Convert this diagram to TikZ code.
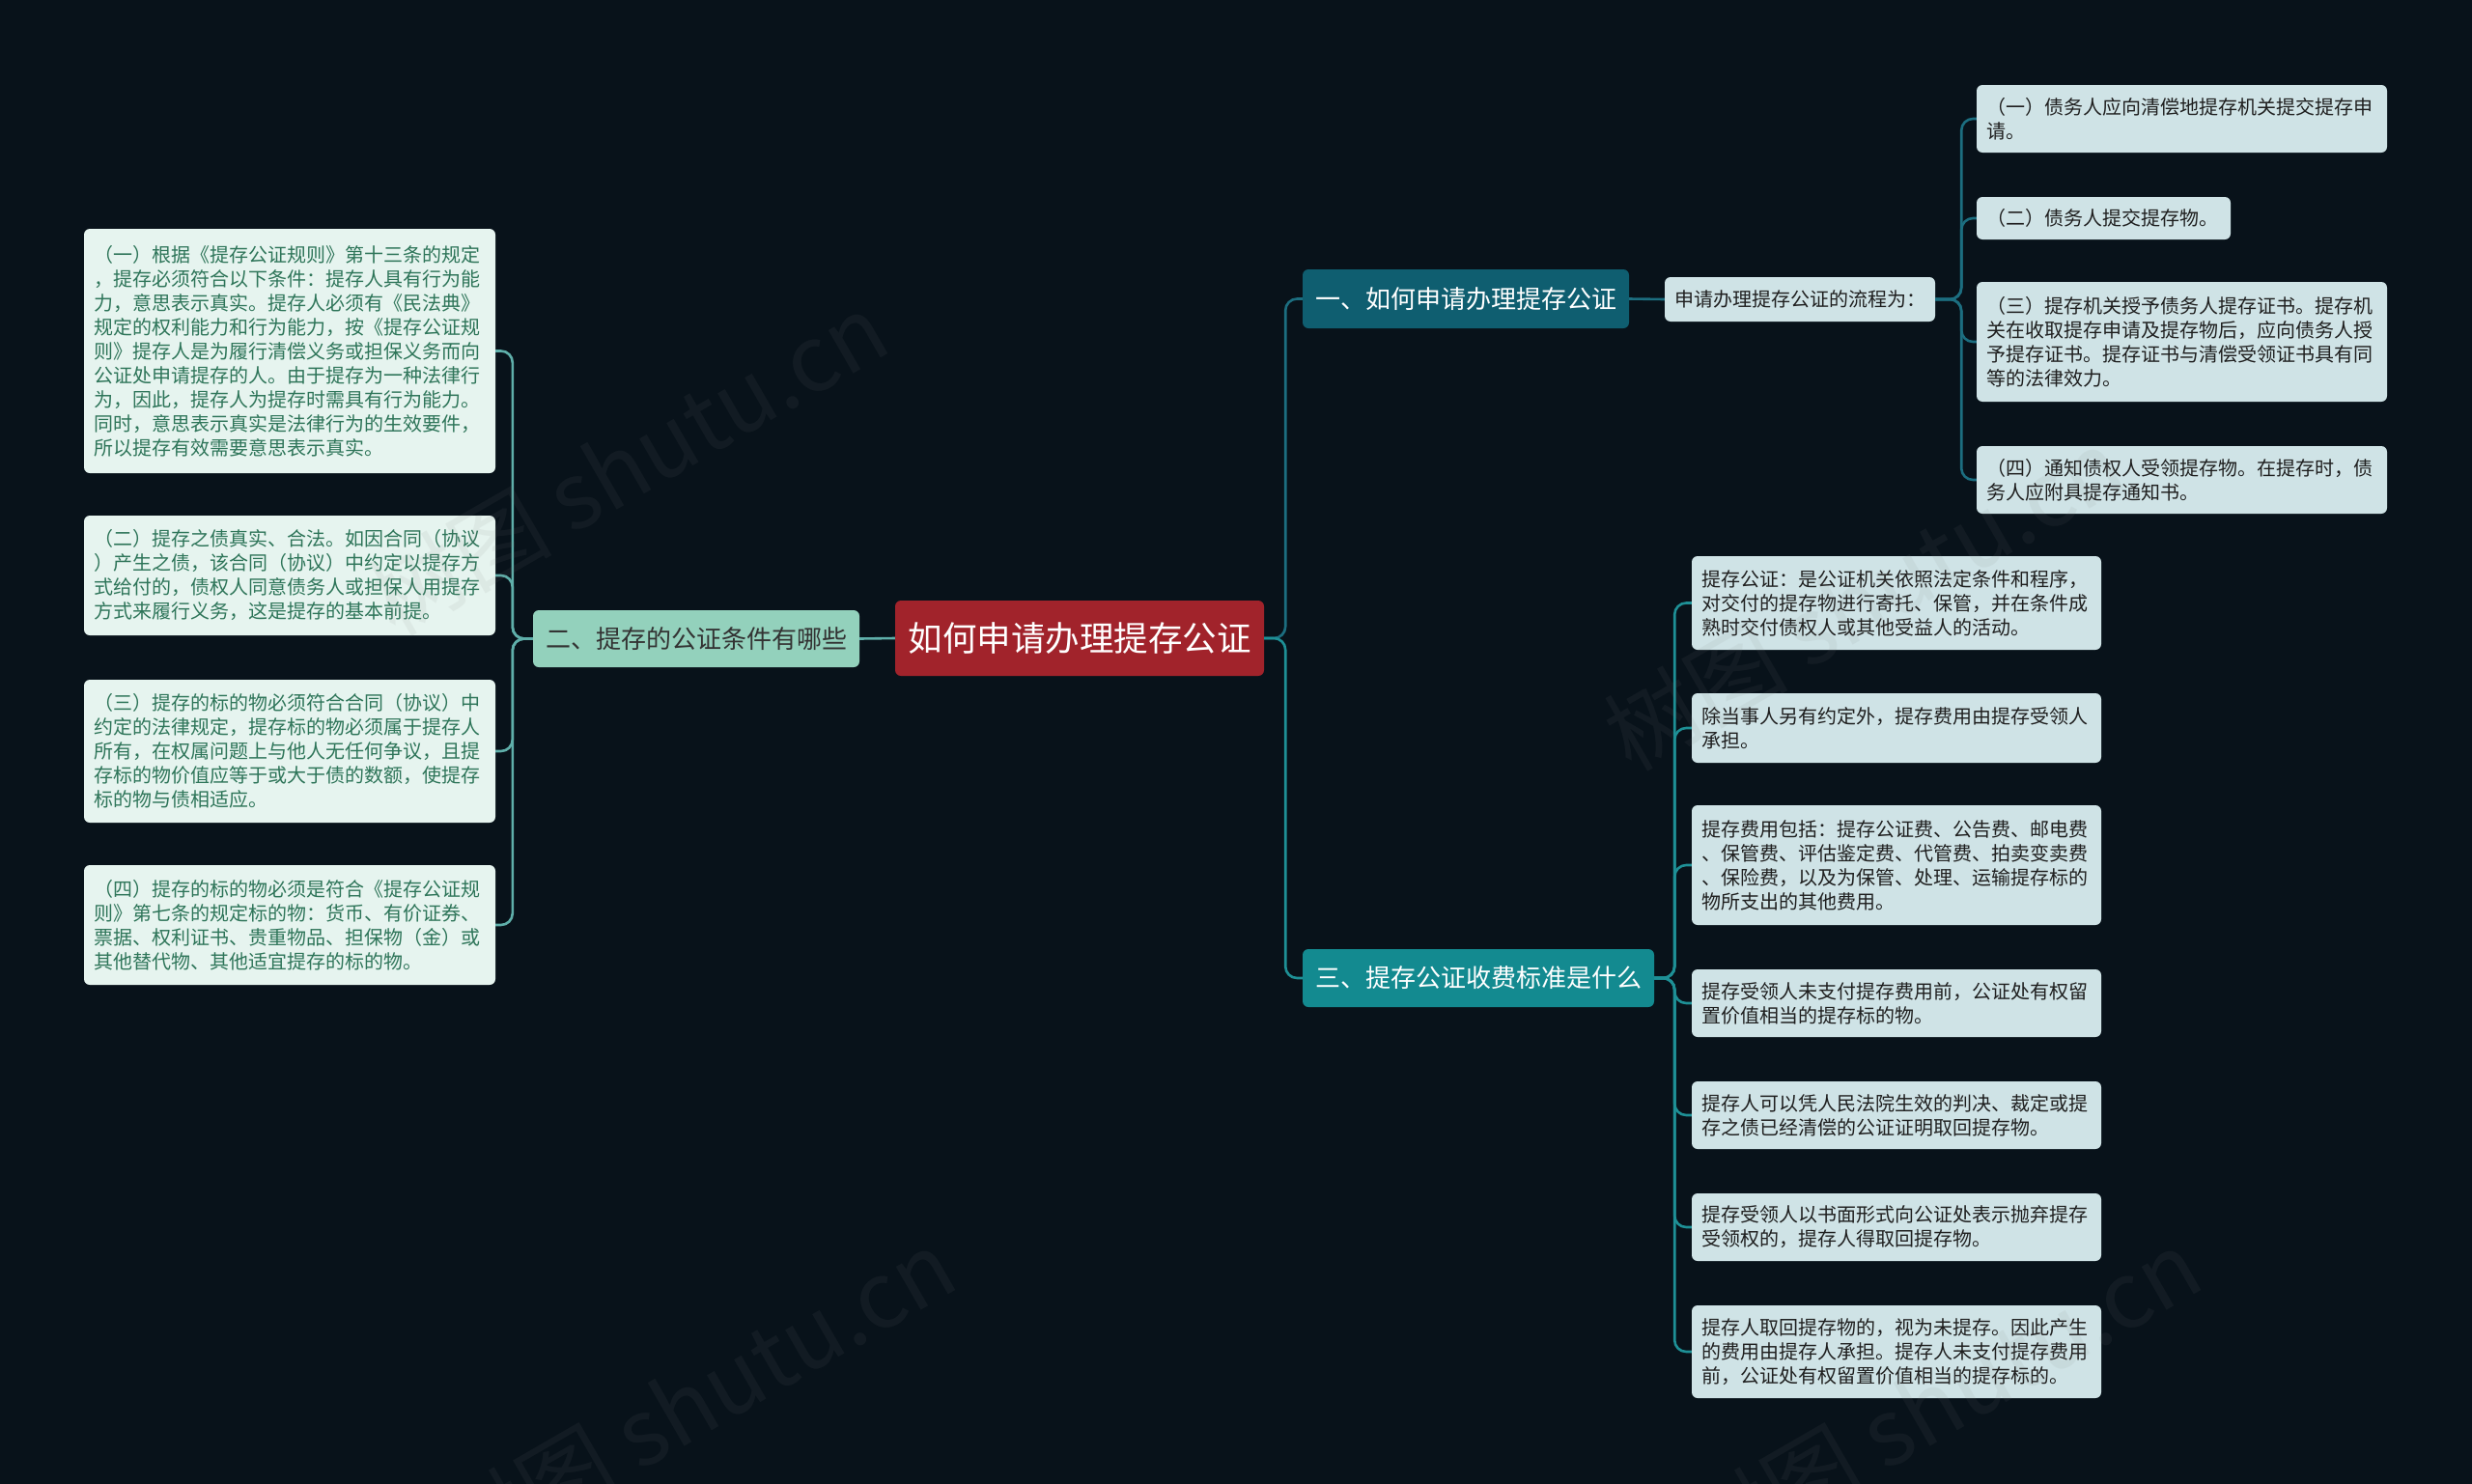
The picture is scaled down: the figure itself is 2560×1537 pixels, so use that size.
\documentclass[tikz,border=0pt]{standalone}
\usepackage{fontspec}
\setmainfont{Noto Sans CJK SC}
\definecolor{bgc}{HTML}{08121A}
\definecolor{rootc}{HTML}{A1232B}
\definecolor{mintc}{HTML}{93D1BC}
\definecolor{darkteal}{HTML}{0F5E70}
\definecolor{tealc}{HTML}{138A90}
\definecolor{lightblue}{HTML}{CFE3E6}
\definecolor{lightmint}{HTML}{E6F4EF}
\definecolor{leaftxt}{HTML}{2E7559}
\definecolor{connA}{HTML}{1C6E80}
\definecolor{connB}{HTML}{1E9096}
\definecolor{connL}{HTML}{5FAFAA}
\tikzset{
  box/.style={rectangle, rounded corners=6pt, inner xsep=10pt, inner ysep=4pt, align=left},
  leafR/.style={box, fill=lightblue, text=black!88, font=\fontsize{20}{25}\selectfont, text width=#1},
  leafL/.style={box, fill=lightmint, text=leaftxt, font=\fontsize{20}{25}\selectfont, text width=406pt},
  topic/.style={box, align=center, font=\fontsize{26}{30}\selectfont},
  conn/.style={line width=2.6pt, rounded corners=12pt},
  wmark/.style={text=gray, opacity=0.09, font=\fontsize{95}{95}\selectfont, rotate=30}
}
\begin{document}
\begin{tikzpicture}[x=1pt,y=-1pt]
\useasboundingbox (0,0) rectangle (2560,1537);
\fill[bgc] (0,0) rectangle (2560,1537);

% main nodes
\node[box, align=center, fill=rootc, text=white, font=\fontsize{35.5}{40}\selectfont, minimum width=382pt, minimum height=78pt] (root) at (1118,661) {如何申请办理提存公证};
\node[topic, fill=mintc, text=black!80, minimum width=338pt, minimum height=59pt] (two) at (721,661.5) {二、提存的公证条件有哪些};
\node[topic, fill=darkteal, text=white, minimum width=338pt, minimum height=61pt] (one) at (1518,309.5) {一、如何申请办理提存公证};
\node[topic, fill=tealc, text=white, minimum width=364pt, minimum height=60pt] (three) at (1531,1013) {三、提存公证收费标准是什么};
\node[box, align=center, fill=lightblue, text=black!88, font=\fontsize{20}{25}\selectfont, minimum width=276pt, minimum height=46pt] (flow) at (1864,310) {申请办理提存公证的流程为：};

% right top leaves
\node[leafR=405pt, minimum height=70pt] (r1) at (2259.5,123) {（一）债务人应向清偿地提存机关提交提存申\\请。};
\node[leafR=243pt, minimum height=44pt] (r2) at (2178.5,226) {（二）债务人提交提存物。};
\node[leafR=405pt, minimum height=124pt] (r3) at (2259.5,354) {（三）提存机关授予债务人提存证书。提存机\\关在收取提存申请及提存物后，应向债务人授\\予提存证书。提存证书与清偿受领证书具有同\\等的法律效力。};
\node[leafR=405pt, minimum height=70pt] (r4) at (2259.5,497) {（四）通知债权人受领提存物。在提存时，债\\务人应附具提存通知书。};

% right bottom leaves
\node[leafR=404pt, minimum height=97pt] (b1) at (1964,624.5) {提存公证：是公证机关依照法定条件和程序，\\对交付的提存物进行寄托、保管，并在条件成\\熟时交付债权人或其他受益人的活动。};
\node[leafR=404pt, minimum height=72pt] (b2) at (1964,754) {除当事人另有约定外，提存费用由提存受领人\\承担。};
\node[leafR=404pt, minimum height=124pt] (b3) at (1964,896) {提存费用包括：提存公证费、公告费、邮电费\\、保管费、评估鉴定费、代管费、拍卖变卖费\\、保险费，以及为保管、处理、运输提存标的\\物所支出的其他费用。};
\node[leafR=404pt, minimum height=70pt] (b4) at (1964,1039) {提存受领人未支付提存费用前，公证处有权留\\置价值相当的提存标的物。};
\node[leafR=404pt, minimum height=70pt] (b5) at (1964,1155) {提存人可以凭人民法院生效的判决、裁定或提\\存之债已经清偿的公证证明取回提存物。};
\node[leafR=404pt, minimum height=70pt] (b6) at (1964,1271) {提存受领人以书面形式向公证处表示抛弃提存\\受领权的，提存人得取回提存物。};
\node[leafR=404pt, minimum height=96pt] (b7) at (1964,1400) {提存人取回提存物的，视为未提存。因此产生\\的费用由提存人承担。提存人未支付提存费用\\前，公证处有权留置价值相当的提存标的。};

% left leaves
\node[leafL, minimum width=426pt, minimum height=253pt] (l1) at (300,363.5) {（一）根据《提存公证规则》第十三条的规定\\，提存必须符合以下条件：提存人具有行为能\\力，意思表示真实。提存人必须有《民法典》\\规定的权利能力和行为能力，按《提存公证规\\则》提存人是为履行清偿义务或担保义务而向\\公证处申请提存的人。由于提存为一种法律行\\为，因此，提存人为提存时需具有行为能力。\\同时，意思表示真实是法律行为的生效要件，\\所以提存有效需要意思表示真实。};
\node[leafL, minimum width=426pt, minimum height=124pt] (l2) at (300,596) {（二）提存之债真实、合法。如因合同（协议\\）产生之债，该合同（协议）中约定以提存方\\式给付的，债权人同意债务人或担保人用提存\\方式来履行义务，这是提存的基本前提。};
\node[leafL, minimum width=426pt, minimum height=148pt] (l3) at (300,778) {（三）提存的标的物必须符合合同（协议）中\\约定的法律规定，提存标的物必须属于提存人\\所有，在权属问题上与他人无任何争议，且提\\存标的物价值应等于或大于债的数额，使提存\\标的物与债相适应。};
\node[leafL, minimum width=426pt, minimum height=124pt] (l4) at (300,958) {（四）提存的标的物必须是符合《提存公证规\\则》第七条的规定标的物：货币、有价证券、\\票据、权利证书、贵重物品、担保物（金）或\\其他替代物、其他适宜提存的标的物。};

% connectors
\draw[conn, connA] (root.east) -- ++(22,0) |- (one.west);
\draw[conn, connB] (root.east) -- ++(22,0) |- (three.west);
\draw[conn, connL] (root.west) -- (two.east);
\draw[conn, connA] (one.east) -- (flow.west);
\foreach \n in {r1,r2,r3,r4} \draw[conn, connA] (flow.east) -- ++(27,0) |- (\n.west);
\foreach \n in {b1,b2,b3,b4,b5,b6,b7} \draw[conn, connB] (three.east) -- ++(21,0) |- (\n.west);
\foreach \n in {l1,l2,l3,l4} \draw[conn, connL] (two.west) -- ++(-21,0) |- (\n.east);

% watermarks
\node[wmark] (w1) at (650,480) {树图 shutu.cn};
\node[wmark] (w2) at (1930,620) {树图 shutu.cn};
\node[wmark] (w3) at (720,1450) {树图 shutu.cn};
\node[wmark] (w4) at (2010,1450) {树图 shutu.cn};
\end{tikzpicture}
\end{document}
